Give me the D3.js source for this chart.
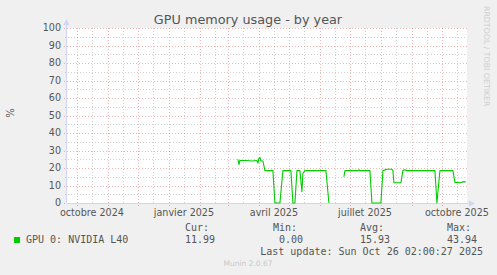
<!DOCTYPE html>
<html>
<head>
<meta charset="utf-8">
<script src="https://cdn.jsdelivr.net/npm/d3@7"></script>
<style>
  html, body { margin: 0; padding: 0; background: #f0f0f0; }
  svg { display: block; }
</style>
</head>
<body>
<div id="chart"></div>
<script>
// daily averages (null = no data)
const dates = ["2025-03-11","2025-03-12","2025-03-13","2025-03-20","2025-03-25","2025-03-30","2025-03-31",
  "2025-04-01","2025-04-02","2025-04-03","2025-04-05","2025-04-07","2025-04-15","2025-04-17","2025-04-22",
  "2025-04-25","2025-05-03","2025-05-05","2025-05-07","2025-05-09","2025-05-12","2025-05-14","2025-05-15",
  "2025-05-17","2025-06-07","2025-06-10","2025-06-11","2025-06-25","2025-06-26","2025-07-09","2025-07-10",
  "2025-07-11","2025-07-21","2025-07-23","2025-08-01","2025-08-03","2025-08-07","2025-08-12","2025-08-13",
  "2025-08-14","2025-08-21","2025-08-23","2025-08-25","2025-08-27","2025-09-24","2025-09-26","2025-09-29",
  "2025-10-12","2025-10-14","2025-10-20","2025-10-22","2025-10-25"];
const gpuMem = [25,22,24.3,24.3,24.0,24.3,22.8,
  25.5,26,24,24,18.5,18.5,0,0,
  18.5,18.5,0,0,18.5,18.5,6.5,17,
  18.5,18.5,0,null,15,18.5,18.5,19,
  18.5,18.5,0,0,18.5,19.3,19.3,18.5,
  11.6,11.6,18.5,19,18.5,18.5,0,18.5,
  18.5,11.8,11.6,12.2,12];
const yTicks = [0,10,20,30,40,50,60,70,80,90,100];
const legendLabel = "GPU 0: NVIDIA L40";
const stats = [["Cur:", "11.99"], ["Min:", "0.00"], ["Avg:", "15.93"], ["Max:", "43.94"]];

const W = 497, H = 275;
const pLeft = 67, pRight = 467, pTop = 28, pBottom = 203;
const end = new Date(2025, 9, 26, 2, 0, 27);
const start = d3.timeDay.offset(end, -400);

const parse = d3.timeParse("%Y-%m-%d");
const data = dates.map((d, i) => ({t: parse(d), v: gpuMem[i]}));

const fr = d3.timeFormatLocale({
  dateTime: "%A %e %B %Y à %X", date: "%d/%m/%Y", time: "%H:%M:%S",
  periods: ["AM", "PM"],
  days: ["dimanche","lundi","mardi","mercredi","jeudi","vendredi","samedi"],
  shortDays: ["dim.","lun.","mar.","mer.","jeu.","ven.","sam."],
  months: ["janvier","février","mars","avril","mai","juin","juillet","août","septembre","octobre","novembre","décembre"],
  shortMonths: ["janv.","févr.","mars","avr.","mai","juin","juil.","août","sept.","oct.","nov.","déc."]
});
const fmtMonth = fr.format("%B %Y");

const x = d3.scaleTime().domain([start, end]).range([pLeft, pRight]);
const y = d3.scaleLinear().domain([0, 100]).range([pBottom, pTop]);

const svg = d3.select("#chart").append("svg").attr("width", W).attr("height", H);
svg.append("rect").attr("width", W).attr("height", H).attr("fill", "#f0f0f0");
svg.append("rect").attr("x", pLeft).attr("y", pTop).attr("width", pRight - pLeft).attr("height", pBottom - pTop).attr("fill", "#ffffff");

const minorCol = "rgba(140,140,140,0.4)";
const majorCol = "rgba(215,90,90,0.45)";
const grid = svg.append("g").attr("shape-rendering", "crispEdges");

// horizontal grid
d3.range(5, 100, 10).forEach(v => {
  grid.append("line").attr("x1", pLeft - 2).attr("x2", pRight).attr("y1", Math.round(y(v)) + 0.5).attr("y2", Math.round(y(v)) + 0.5)
    .attr("stroke", minorCol).attr("stroke-dasharray", "1,2");
});
yTicks.forEach(v => {
  grid.append("line").attr("x1", pLeft - 3).attr("x2", pRight).attr("y1", Math.round(y(v)) + 0.5).attr("y2", Math.round(y(v)) + 0.5)
    .attr("stroke", majorCol).attr("stroke-dasharray", "1,2");
});

// vertical grid
const months = d3.timeMonth.range(d3.timeMonth.ceil(start), end);
const mids = d3.timeMonth.range(d3.timeMonth.floor(start), end).map(m => d3.timeDay.offset(m, 15)).filter(d => d > start && d < end);
mids.forEach(d => {
  const px = Math.round(x(d)) + 0.5;
  grid.append("line").attr("x1", px).attr("x2", px).attr("y1", pTop).attr("y2", pBottom + 2)
    .attr("stroke", minorCol).attr("stroke-dasharray", "1,2");
});
months.forEach(d => {
  const px = Math.round(x(d)) + 0.5;
  grid.append("line").attr("x1", px).attr("x2", px).attr("y1", pTop).attr("y2", pBottom + 3)
    .attr("stroke", majorCol).attr("stroke-dasharray", "1,2");
});

// axes
const axisCol = "#cfd6f8";
grid.append("line").attr("x1", pLeft - 0.5).attr("x2", pLeft - 0.5).attr("y1", pBottom).attr("y2", pTop - 4).attr("stroke", axisCol);
grid.append("line").attr("x1", pLeft).attr("x2", pRight + 3).attr("y1", pBottom + 0.5).attr("y2", pBottom + 0.5).attr("stroke", axisCol);
svg.append("path").attr("d", `M${pLeft - 3.5},${pTop - 3} L${pLeft - 0.5},${pTop - 9} L${pLeft + 2.5},${pTop - 3} Z`).attr("fill", axisCol);
svg.append("path").attr("d", `M${pRight + 2},${pBottom - 2.5} L${pRight + 8},${pBottom + 0.5} L${pRight + 2},${pBottom + 3.5} Z`).attr("fill", axisCol);

// y labels
svg.append("g").selectAll("text").data(yTicks).enter().append("text")
  .attr("x", pLeft - 6).attr("y", d => y(d)).attr("dy", "0.36em")
  .attr("text-anchor", "end").attr("fill", "#555")
  .style("font-family", "DejaVu Sans").style("font-size", "9.6px")
  .text(d => d);

// x labels: quarterly, centred in the month
const labMonths = months.filter(m => m.getMonth() % 3 === 0);
svg.append("g").selectAll("text").data(labMonths).enter().append("text")
  .attr("x", d => x(d3.timeDay.offset(d, 15))).attr("y", 216)
  .attr("text-anchor", "middle").attr("fill", "#555")
  .style("font-family", "DejaVu Sans").style("font-size", "9.6px")
  .text(d => fmtMonth(d));

// series
const line = d3.line().defined(d => d.v !== null).x(d => x(d.t)).y(d => y(d.v));
svg.append("path").datum(data).attr("d", line)
  .attr("fill", "none").attr("stroke", "#00cc00").attr("stroke-width", 1.1).attr("stroke-linejoin", "round");

// title
svg.append("text").attr("x", 248).attr("y", 24).attr("text-anchor", "middle").attr("fill", "#555")
  .style("font-family", "DejaVu Sans").style("font-size", "12.8px").text("GPU memory usage - by year");

svg.append("text").attr("transform", "translate(14,113) rotate(-90)").attr("text-anchor", "middle").attr("fill", "#555")
  .style("font-family", "DejaVu Sans").style("font-size", "10px").text("%");

svg.append("text").attr("transform", "translate(484,6) rotate(90)").attr("text-anchor", "start").attr("fill", "#cfcfcf")
  .style("font-family", "DejaVu Sans").style("font-size", "7.8px").text("RRDTOOL / TOBI OETIKER");

// legend
const mono = t => t.style("font-family", "DejaVu Sans Mono").style("font-size", "10px").attr("fill", "#555");
svg.append("rect").attr("x", 14).attr("y", 237).attr("width", 6).attr("height", 6).attr("fill", "#00cc00");
mono(svg.append("text").attr("x", 26).attr("y", 243).text(legendLabel));
const colX = [185, 273, 360, 447];
const valX = [185, 279, 360, 447];
stats.forEach((s, i) => {
  mono(svg.append("text").attr("x", colX[i]).attr("y", 231).text(s[0]));
  mono(svg.append("text").attr("x", valX[i]).attr("y", 243).text(s[1]));
});
mono(svg.append("text").attr("x", 483).attr("y", 255).attr("text-anchor", "end").text("Last update: Sun Oct 26 02:00:27 2025"));

svg.append("text").attr("x", 248).attr("y", 266).attr("text-anchor", "middle").attr("fill", "#c8c8c8")
  .style("font-family", "DejaVu Sans").style("font-size", "7.5px").text("Munin 2.0.67");
</script>
</body>
</html>
